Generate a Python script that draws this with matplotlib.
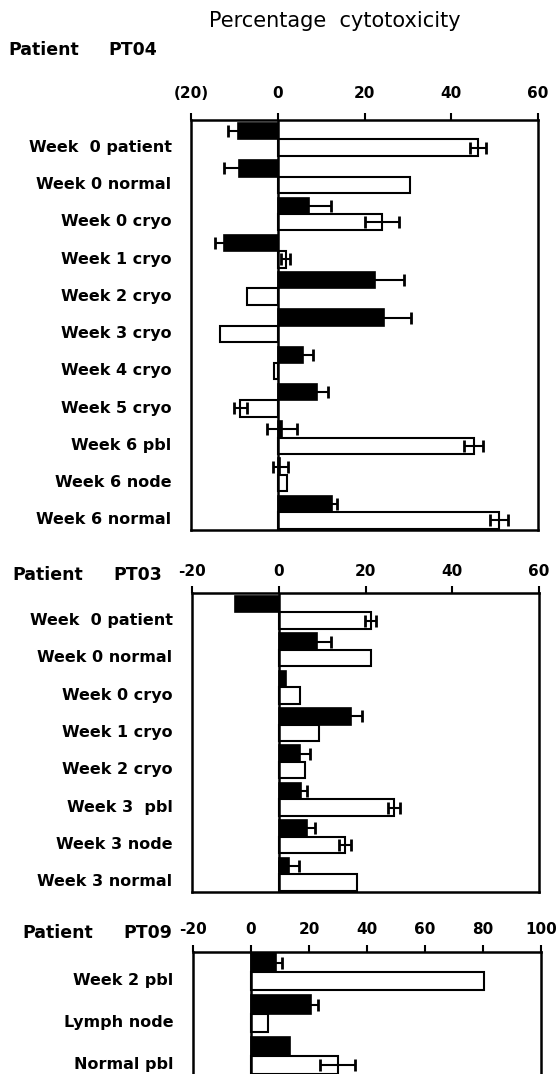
import matplotlib.pyplot as plt
import numpy as np

# Patient PT04
pt04_labels = ['Week  0 patient', 'Week 0 normal', 'Week 0 cryo', 'Week 1 cryo', 'Week 2 cryo',
               'Week 3 cryo', 'Week 4 cryo', 'Week 5 cryo', 'Week 6 pbl', 'Week 6 node', 'Week 6 normal']
pt04_black = [-9.1, -8.9, 7.1, -12.4, 22.5, 24.4, 5.9, 9.0, 1.0, 0.6, 12.5]
pt04_black_err = [2.3, 3.5, 5.2, 2.1, 6.5, 6.4, 2.3, 2.5, 3.5, 1.8, 1.1]
pt04_white = [46.1, 30.5, 24.0, 1.8, -7.0, -13.3, -0.8, -8.7, 45.2, 2.1, 51.0]
pt04_white_err = [1.8, 0, 4.0, 1.0, 0, 0, 0, 1.5, 2.2, 0, 2.1]
pt04_ticks = [-20, 0, 20, 40, 60]
pt04_ticklabels = ['(20)', '0', '20', '40', '60']

# Patient PT03
pt03_labels = ['Week  0 patient', 'Week 0 normal', 'Week 0 cryo', 'Week 1 cryo', 'Week 2 cryo',
               'Week 3  pbl', 'Week 3 node', 'Week 3 normal']
pt03_black = [-10.0, 8.8, 1.6, 16.6, 4.8, 5.2, 6.5, 2.4]
pt03_black_err = [0, 3.3, 0, 2.6, 2.3, 1.2, 1.8, 2.3]
pt03_white = [21.2, 21.2, 5.0, 9.2, 6.1, 26.6, 15.2, 18.1]
pt03_white_err = [1.3, 0, 0, 0, 0, 1.3, 1.4, 0]
pt03_ticks = [-20, 0, 20, 40, 60]
pt03_ticklabels = ['-20', '0', '20', '40', '60']

# Patient PT09
pt09_labels = ['Week 2 pbl', 'Lymph node', 'Normal pbl']
pt09_black = [8.6, 20.7, 13.3]
pt09_black_err = [2.0, 2.4, 0]
pt09_white = [80.4, 5.9, 29.9]
pt09_white_err = [0, 0, 6.0]
pt09_ticks = [-20, 0, 20, 40, 60, 80, 100]
pt09_ticklabels = ['-20', '0', '20', '40', '60', '80', '100']

W, H = 560, 1074
fig = plt.figure(figsize=(W / 100, H / 100), dpi=100)
plt.rcParams['font.family'] = ['DejaVu Sans']

BH = 0.44  # bar height


def panel(box, labels, black, black_err, white, white_err, ticks, ticklabels, xlim, ylim, pad):
    left, top, right, bottom = box
    ax = fig.add_axes([left / W, 1 - bottom / H, (right - left) / W, (bottom - top) / H])
    y = np.arange(len(labels))
    ax.barh(y - BH / 2, black, height=BH, color='black', edgecolor='black', linewidth=1.2, zorder=2)
    ax.barh(y + BH / 2, white, height=BH, color='white', edgecolor='black', linewidth=1.5, zorder=2)
    for yy, v, e in zip(y - BH / 2, black, black_err):
        if e > 0:
            ax.errorbar(v, yy, xerr=e, fmt='none', ecolor='black', elinewidth=1.5,
                        capsize=4, capthick=2, zorder=3)
    for yy, v, e in zip(y + BH / 2, white, white_err):
        if e > 0:
            ax.errorbar(v, yy, xerr=e, fmt='none', ecolor='black', elinewidth=1.5,
                        capsize=4, capthick=2, zorder=3)
    ax.axvline(0, color='black', linewidth=1.8, zorder=4)
    ax.set_xlim(*xlim)
    ax.set_ylim(*ylim)
    ax.xaxis.tick_top()
    ax.set_xticks(ticks)
    ax.set_xticklabels(ticklabels, fontsize=11, fontweight='bold')
    ax.tick_params(axis='x', direction='out', length=5, width=1.5, pad=pad)
    ax.set_yticks(y + 0.17)
    ax.set_yticklabels(labels, fontsize=11.5, fontweight='bold')
    ax.tick_params(axis='y', length=0, pad=14)
    for s in ax.spines.values():
        s.set_linewidth(1.8)
    return ax


panel((191, 120, 538, 530), pt04_labels, pt04_black, pt04_black_err, pt04_white, pt04_white_err,
      pt04_ticks, pt04_ticklabels, (-20, 60), (-0.52 + 11, -0.52), 9)
panel((192, 593, 539, 892), pt03_labels, pt03_black, pt03_black_err, pt03_white, pt03_white_err,
      pt03_ticks, pt03_ticklabels, (-20, 60), (-0.52 + 8, -0.52), 5)
panel((193, 952, 541, 1078), pt09_labels, pt09_black, pt09_black_err, pt09_white, pt09_white_err,
      pt09_ticks, pt09_ticklabels, (-20, 100), (-0.47 + 126 / 42, -0.47), 6)

# titles
fig.text(335 / W, 1 - 21 / H, 'Percentage  cytotoxicity', fontsize=15, ha='center', va='center')
for x1, x2, yc, name in [(8, 108, 50, 'PT04'), (12, 113, 575, 'PT03'), (22, 123, 933, 'PT09')]:
    fig.text(x1 / W, 1 - yc / H, 'Patient', fontsize=12.5, fontweight='bold', ha='left', va='center')
    fig.text(x2 / W, 1 - yc / H, name, fontsize=12.5, fontweight='bold', ha='left', va='center')

fig.savefig('out.png', dpi=100)
